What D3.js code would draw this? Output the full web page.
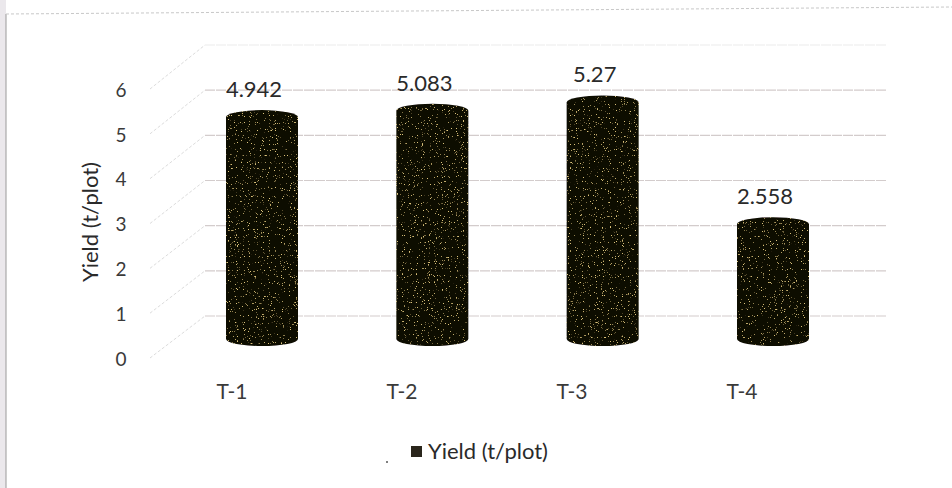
<!DOCTYPE html>
<html><head><meta charset="utf-8">
<script src="https://cdn.jsdelivr.net/npm/d3@7"></script>
<style>
html,body{margin:0;padding:0;background:#fff;}
svg{display:block;font-family:Lato,"Open Sans",sans-serif;}
</style></head>
<body><svg id="c" width="952" height="488"></svg>
<script>
const categories = ["T-1","T-2","T-3","T-4"];
const values = [4.942, 5.083, 5.27, 2.558];
const valueLabels = ["4.942","5.083","5.27","2.558"];
const yTicks = [0,1,2,3,4,5,6];
const seriesName = "Yield (t/plot)";
const axisTitle = "Yield (t/plot)";

const svg = d3.select("#c");
const W = 952, H = 488;

// scanned-page background hints
svg.append("rect").attr("width",W).attr("height",H).attr("fill","#fff");
svg.append("rect").attr("x",0).attr("y",0).attr("width",6).attr("height",H).attr("fill","#ebe8ec");
svg.append("line").attr("x1",6).attr("x2",6).attr("y1",14).attr("y2",H).attr("stroke","#9a9a9a").attr("stroke-width",1);
svg.append("line").attr("x1",6).attr("x2",W).attr("y1",14).attr("y2",7).attr("stroke","#c8c8c8").attr("stroke-width",1).attr("stroke-dasharray","3,2");

// scales: front plane (labels), middle depth (bars), back wall (gridlines)
const yFront = d3.scaleLinear().domain([0,6]).range([358,89]);
const yMid = d3.scaleLinear().domain([0,6]).range([332,62.6]);
const yBack = d3.scaleLinear().domain([0,6]).range([316,45]);
const xMid = d3.scalePoint().domain(categories).range([262,773]);
const xFront = d3.scalePoint().domain(categories).range([232,742]);
const backL = 205, backR = 887, frontL = 150;

const grid = svg.append("g");
yTicks.forEach(t=>{
  grid.append("line").attr("x1",backL).attr("x2",backR)
    .attr("y1",yBack(t)).attr("y2",yBack(t))
    .attr("stroke", t===6 ? "#ececec" : "#d3cccc").attr("stroke-width",1.2)
    .attr("stroke-dasharray","10,1");
  grid.append("line").attr("x1",frontL).attr("x2",backL)
    .attr("y1",yFront(t)).attr("y2",yBack(t))
    .attr("stroke","#dcdcdc").attr("stroke-width",1).attr("stroke-dasharray","3,2");
});

// y tick labels
svg.append("g").selectAll("text").data(yTicks).join("text")
  .attr("x",121).attr("y",d=>yFront(d)+3).attr("text-anchor","middle")
  .attr("dominant-baseline","middle").attr("font-size",19).attr("fill","#3a3a3a")
  .text(d=>d);

// axis title
svg.append("text").attr("transform","translate(92,222) rotate(-90)")
  .attr("text-anchor","middle").attr("dominant-baseline","middle")
  .attr("font-size",22).attr("fill","#2a2a2a").text(axisTitle);

// speckle texture
const defs = svg.append("defs");
const f = defs.append("filter").attr("id","speck").attr("x",0).attr("y",0).attr("width","100%").attr("height","100%");
f.append("feTurbulence").attr("type","fractalNoise").attr("baseFrequency",0.85).attr("numOctaves",2).attr("seed",3).attr("result","n");
f.append("feColorMatrix").attr("in","n").attr("type","matrix")
  .attr("values","0 0 0 0 0.72  0 0 0 0 0.55  0 0 0 0 0.2  0 0 0 10 -6.8").attr("result","s");
f.append("feComposite").attr("in","s").attr("in2","SourceGraphic").attr("operator","in").attr("result","sm");
f.append("feMerge").call(m=>{m.append("feMergeNode").attr("in","SourceGraphic");m.append("feMergeNode").attr("in","sm");});

// cylinders
const rx = 36, ry = 7;
const baseY = yMid(0) + ry;
function cyl(cx, yTop, yBase){
  return `M${cx-rx},${yTop} A${rx},${ry} 0 0 1 ${cx+rx},${yTop} L${cx+rx},${yBase} A${rx},${ry} 0 0 1 ${cx-rx},${yBase} Z`;
}
svg.append("g").selectAll("path").data(categories).join("path")
  .attr("d",(c,i)=>cyl(xMid(c), yMid(values[i])+ry, baseY))
  .attr("fill","#0e0b06").attr("filter","url(#speck)");

// value labels
svg.append("g").selectAll("text").data(categories).join("text")
  .attr("x",(c,i)=>xMid(c)-8).attr("y",(c,i)=>yMid(values[i])-13)
  .attr("text-anchor","middle").attr("font-size",22).attr("fill","#2a2a2a")
  .text((c,i)=>valueLabels[i]);

// category labels
svg.append("g").selectAll("text").data(categories).join("text")
  .attr("x",c=>xFront(c)).attr("y",399).attr("text-anchor","middle")
  .attr("font-size",21).attr("fill","#3a3a3a").text(c=>c);

// legend
const lg = svg.append("g");
lg.append("rect").attr("x",411).attr("y",446).attr("width",11).attr("height",11).attr("fill","#2a261c");
lg.append("text").attr("x",428).attr("y",459).attr("font-size",22).attr("fill","#2a2a2a").text(seriesName);
lg.append("circle").attr("cx",387).attr("cy",462).attr("r",1).attr("fill","#555");
</script></body></html>
